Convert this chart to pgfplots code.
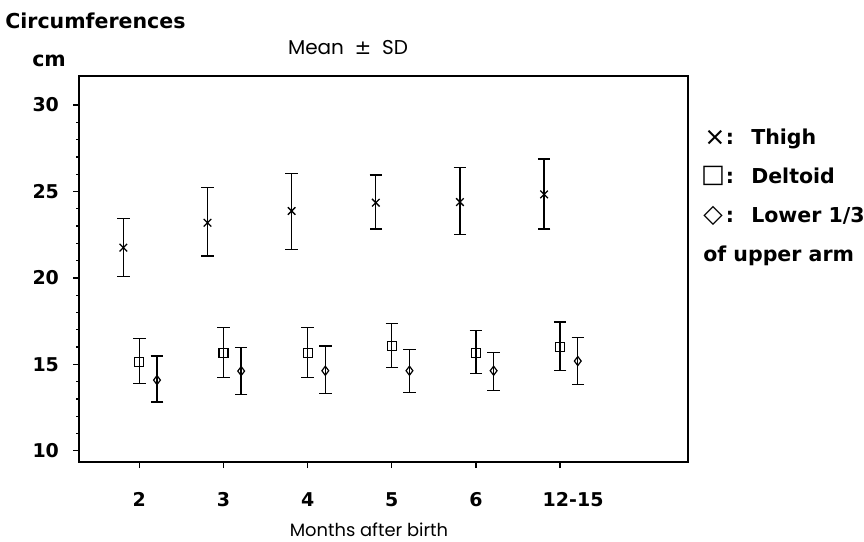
\documentclass[border=0pt]{standalone}
\usepackage{fontspec}
\setmainfont{Poppins}
\newfontfamily\dejavu{DejaVu Sans}
\usepackage{pgfplots}
\usepackage{pgfplotstable}
\pgfplotsset{compat=1.18}
\def\P#1#2{({#1*0.75pt},{-#2*0.75pt})}
\pgfplotstableread{
x y ep em
-0.19 21.75 1.67 1.65
0.81 23.19 2.03 1.93
1.81 23.87 2.16 2.22
2.81 24.35 1.60 1.52
3.81 24.39 1.98 1.89
4.81 24.83 2.05 2.00
}\thightab
\pgfplotstableread{
x y ep em
0 15.15 1.33 1.25
1 15.67 1.45 1.43
2 15.67 1.45 1.43
3 16.06 1.31 1.24
4 15.67 1.29 1.20
5 16.02 1.42 1.39
}\deltoidtab
\pgfplotstableread{
x y ep em
0.21 14.09 1.39 1.27
1.21 14.61 1.37 1.37
2.21 14.63 1.43 1.31
3.21 14.63 1.23 1.24
4.21 14.63 1.06 1.16
5.21 15.19 1.35 1.37
}\armtab
\begin{document}
\begin{tikzpicture}
\useasboundingbox \P{0}{0} rectangle \P{864}{542};
\begin{axis}[
  at={(59.25pt,-346.5pt)}, anchor=south west,
  scale only axis, width=456.75pt, height=289.5pt,
  xmin=-0.717, xmax=6.52, ymin=9.35, ymax=31.68,
  xtick={0,1,2,3,4,5},
  xticklabels={2,3,4,5,\raisebox{-2pt}{6},\hspace*{19.5pt}12-15},
  ytick={10,15,20,25,30},
  minor y tick num=4,
  tick pos=left,
  tick align=outside,
  major tick length=4.5pt, minor tick length=2.25pt,
  tick style={line width=1pt, black},
  axis line style={line width=1.8pt},
  /pgf/number format/assume math mode=true,
  ticklabel style={font=\dejavu\bfseries\fontsize{14.25}{16}\selectfont},
  xticklabel style={yshift=-15pt},
  yticklabel style={xshift=-7pt},
  error bars/y dir=both, error bars/y explicit,
  error bars/error bar style={line width=1pt, black},
  error bars/error mark options={rotate=90, mark size=4.7pt, line width=1pt, black},
]
\addplot[only marks, mark=x, mark size=4pt, mark options={line width=1pt, black}]
  table[x=x, y=y, y error plus=ep, y error minus=em]{\thightab};
\addplot[only marks, mark=square, mark size=3.4pt, mark options={line width=0.9pt, black}]
  table[x=x, y=y, y error plus=ep, y error minus=em]{\deltoidtab};
\addplot[only marks, mark=diamond, mark size=3.4pt, mark options={line width=0.9pt, black}]
  table[x=x, y=y, y error plus=ep, y error minus=em]{\armtab};
\end{axis}
\def\bfx{\dejavu\bfseries\fontsize{15.4}{18}\selectfont}
\node[anchor=base west, inner sep=0pt, font=\bfx] at \P{5}{28.5} {Circumferences};
\node[anchor=base west, inner sep=0pt, font=\bfx] at \P{32}{66.5} {cm};
\node[anchor=base, inner sep=0pt, font=\fontsize{15}{17}\selectfont] at \P{348}{55} {Mean\hspace{8pt}{\dejavu ±}\hspace{8pt}SD};
\node[anchor=base, inner sep=0pt, font=\fontsize{13.4}{16}\selectfont] at \P{369}{536.5} {Months after birth};
\node[inner sep=0pt, font=\dejavu\fontsize{19}{20}\selectfont] at \P{715}{137.5} {×};
\node[inner sep=0pt, font=\dejavu\fontsize{19}{20}\selectfont] at \P{713}{176} {□};
\node[inner sep=0pt, font=\dejavu\fontsize{19}{20}\selectfont] at \P{713}{215.5} {◇};
\node[anchor=base, inner sep=0pt, font=\bfx] at \P{730}{144.3} {:};
\node[anchor=base, inner sep=0pt, font=\bfx] at \P{730}{183.3} {:};
\node[anchor=base, inner sep=0pt, font=\bfx] at \P{730}{222.3} {:};
\node[anchor=base west, inner sep=0pt, font=\bfx] at \P{751}{144.3} {Thigh};
\node[anchor=base west, inner sep=0pt, font=\bfx] at \P{751}{183.3} {Deltoid};
\node[anchor=base west, inner sep=0pt, font=\bfx] at \P{751}{222.3} {Lower 1/3};
\node[anchor=base west, inner sep=0pt, font=\bfx] at \P{703}{261} {of upper arm};
\end{tikzpicture}
\end{document}
